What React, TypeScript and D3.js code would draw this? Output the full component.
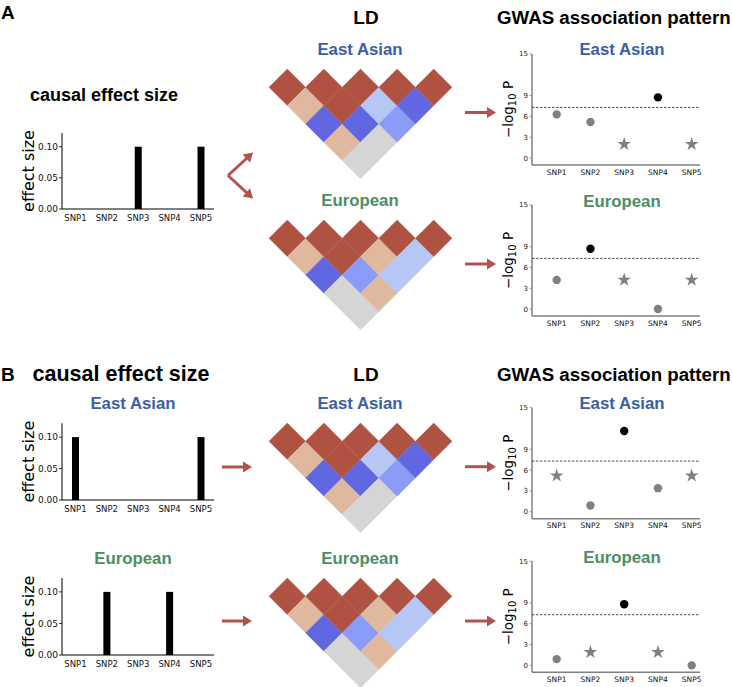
import React from "react";
import * as d3 from "d3";

// ---------------- data ----------------
const snps = ["SNP1", "SNP2", "SNP3", "SNP4", "SNP5"];
const causalA = [0, 0, 0.1, 0, 0.1];
const causalB_EAS = [0.1, 0, 0, 0, 0.1];
const causalB_EUR = [0, 0.1, 0, 0.1, 0];
const effectTicks = [0, 0.05, 0.1];

// LD (upper triangle, row i, col j>=i)
const ldEAS = [
  [1, 0.4, -0.8, 0.4, 0],
  [0, 1, 1, -0.8, 0],
  [0, 0, 1, -0.3, -0.6],
  [0, 0, 0, 1, -0.8],
  [0, 0, 0, 0, 1],
];
const ldEUR = [
  [1, 0.4, -0.8, 0, 0],
  [0, 1, 1, -0.6, 0.4],
  [0, 0, 1, 0.4, -0.3],
  [0, 0, 0, 1, -0.3],
  [0, 0, 0, 0, 1],
];
const ldStops = [-0.8, -0.6, -0.3, 0, 0.4, 1];
const ldColors = ["#6067e0", "#8b9bf8", "#b6c6f5", "#d5d5d5", "#dfb89e", "#b05242"];

const gwasA_EAS = [6.3, 5.2, 2.0, 8.75, 2.0];
const gwasA_EUR = [4.2, 8.7, 4.2, 0.0, 4.2];
const gwasB_EAS = [5.2, 0.9, 11.65, 3.4, 5.2];
const gwasB_EUR = [0.9, 1.9, 8.8, 1.9, 0.0];
const gwasTicks = [0, 3, 6, 9, 15];
const threshold = 7.3;

// ---------------- style ----------------
const TF = "'Liberation Sans', Arial, Helvetica, sans-serif";
const MF = "'DejaVu Sans', sans-serif";
const BLUE = "#3b5ea7";
const GREEN = "#4a8f5f";
const ARROW = "#b0534f";

const ldColor = d3.scaleLinear<string>().domain(ldStops).range(ldColors).interpolate(d3.interpolateRgb);

function BarPanel({ top, base, values }: { top: number; base: number; values: number[] }) {
  const ax = 62;
  const y = d3.scaleLinear().domain([0, 0.122]).range([base, top]);
  const x = d3.scaleLinear().domain([0, snps.length - 1]).range([75.5, 201]);
  const mid = (top + base) / 2;
  return (
    <g>
      <line x1={ax} x2={ax} y1={top} y2={base} stroke="#000" strokeWidth={1} />
      <line x1={ax} x2={214} y1={base} y2={base} stroke="#000" strokeWidth={1} />
      {effectTicks.map((t) => (
        <g key={t}>
          <line x1={ax - 3} x2={ax} y1={y(t)} y2={y(t)} stroke="#000" strokeWidth={0.8} />
          <text x={ax - 4} y={y(t)} dy="0.35em" textAnchor="end" fontFamily={MF} fontSize={9} fill="#111">
            {d3.format(".2f")(t)}
          </text>
        </g>
      ))}
      {values.map((v, i) => (
        <rect key={i} x={x(i) - 3.5} width={7} y={y(v)} height={base - y(v)} fill="#000" />
      ))}
      {snps.map((s, i) => (
        <text key={s} x={x(i)} y={base + 11.5} textAnchor="middle" fontFamily={MF} fontSize={8.5} fill="#111">
          {s}
        </text>
      ))}
      <text transform={`translate(33.5,${mid}) rotate(-90)`} textAnchor="middle" fontFamily={MF} fontSize={16} fill="#000">
        effect size
      </text>
    </g>
  );
}

function LDPanel({ left, top, ld }: { left: number; top: number; ld: number[][] }) {
  const h = 18.3;
  const cells: { i: number; j: number; v: number }[] = [];
  for (let i = 0; i < ld.length; i++) for (let j = i; j < ld.length; j++) cells.push({ i, j, v: ld[i][j] });
  return (
    <g>
      {cells.map(({ i, j, v }) => {
        const cx = left + h + (i + j) * h;
        const cy = top + h + (j - i) * h;
        const p = `M${cx},${cy - h}L${cx + h},${cy}L${cx},${cy + h}L${cx - h},${cy}Z`;
        return <path key={`${i}-${j}`} d={p} fill={ldColor(v)} stroke={ldColor(v)} strokeWidth={0.4} />;
      })}
    </g>
  );
}

function GwasPanel({ top, values, causal }: { top: number; values: number[]; causal: number[] }) {
  const ax = 532;
  const H = 111;
  const y = d3.scaleLinear().domain([-1, 15]).range([top + H, top]);
  const x = d3.scaleLinear().domain([0, snps.length - 1]).range([556.7, 691.7]);
  const star = d3.symbol().type(d3.symbolStar).size(58)();
  return (
    <g>
      <line x1={ax} x2={ax} y1={top} y2={top + H} stroke="#808080" strokeWidth={1.5} />
      <line x1={ax} x2={700} y1={top + H} y2={top + H} stroke="#808080" strokeWidth={1.5} />
      {gwasTicks.map((t) => (
        <g key={t}>
          <line x1={ax - 2.5} x2={ax} y1={y(t)} y2={y(t)} stroke="#808080" strokeWidth={0.8} />
          <text x={ax - 4} y={y(t)} dy="0.35em" textAnchor="end" fontFamily={MF} fontSize={7} fill="#222">
            {t}
          </text>
        </g>
      ))}
      <line x1={ax} x2={700} y1={y(threshold)} y2={y(threshold)} stroke="#222" strokeWidth={0.8} strokeDasharray="2.5,1.5" />
      {values.map((v, i) => {
        const col = v > threshold ? "#000" : "#808080";
        return causal[i] > 0 ? (
          <path key={i} d={star!} transform={`translate(${x(i)},${y(v)})`} fill={col} />
        ) : (
          <circle key={i} cx={x(i)} cy={y(v)} r={4.2} fill={col} />
        );
      })}
      {snps.map((s, i) => (
        <text key={s} x={x(i)} y={top + H + 9.5} textAnchor="middle" fontFamily={MF} fontSize={7.5} fill="#111">
          {s}
        </text>
      ))}
      <text transform={`translate(512.5,${top + H / 2}) rotate(-90)`} textAnchor="middle" fontFamily={MF} fontSize={13.5} fill="#000">
        −log
        <tspan dy={3.5} fontSize={10}>10</tspan>
        <tspan dy={-3.5}> P</tspan>
      </text>
    </g>
  );
}

function arrowHead(x1: number, y1: number, x2: number, y2: number, len = 9, wid = 5.5) {
  const a = Math.atan2(y2 - y1, x2 - x1);
  const bx = x2 - len * Math.cos(a);
  const by = y2 - len * Math.sin(a);
  const px = -Math.sin(a) * wid;
  const py = Math.cos(a) * wid;
  return `M${x2},${y2}L${bx + px},${by + py}L${bx - px},${by - py}Z`;
}

function Arrow({ x1, y1, x2, y2 }: { x1: number; y1: number; x2: number; y2: number }) {
  const a = Math.atan2(y2 - y1, x2 - x1);
  return (
    <g>
      <line x1={x1} y1={y1} x2={x2 - 6 * Math.cos(a)} y2={y2 - 6 * Math.sin(a)} stroke={ARROW} strokeWidth={3} />
      <path d={arrowHead(x1, y1, x2, y2)} fill={ARROW} />
    </g>
  );
}

function Title({ x, y, text, size, color = "#000", anchor = "middle" }: any) {
  return (
    <text x={x} y={y} textAnchor={anchor} fontFamily={TF} fontWeight="bold" fontSize={size} fill={color}>
      {text}
    </text>
  );
}

export default function App() {
  const ldLeft = 269;
  const sub = 16.8;
  return (
    <svg width={732} height={687} style={{ position: "absolute", left: 0, top: 0, background: "#fff" }}>
      {/* Panel A */}
      <Title x={1} y={19} text="A" size={19} anchor="start" />
      <Title x={104} y={101} text="causal effect size" size={18} />
      <Title x={366} y={24} text="LD" size={19} />
      <Title x={497} y={24} text="GWAS association pattern" size={18.7} anchor="start" />

      <BarPanel top={133} base={209} values={causalA} />

      <Title x={360} y={55} text="East Asian" size={sub} color={BLUE} />
      <LDPanel left={ldLeft} top={69} ld={ldEAS} />
      <Title x={360} y={206} text="European" size={sub} color={GREEN} />
      <LDPanel left={ldLeft} top={220} ld={ldEUR} />

      <g>
        <line x1={228} y1={175.5} x2={247} y2={158} stroke={ARROW} strokeWidth={3} strokeLinecap="butt" />
        <line x1={228} y1={175.5} x2={247} y2={193} stroke={ARROW} strokeWidth={3} strokeLinecap="butt" />
        <path d={arrowHead(228, 175.5, 253, 152.5)} fill={ARROW} />
        <path d={arrowHead(228, 175.5, 253, 198.5)} fill={ARROW} />
      </g>

      <Arrow x1={465} y1={112.5} x2={496} y2={112.5} />
      <Arrow x1={465} y1={264} x2={496} y2={264} />

      <Title x={622} y={55} text="East Asian" size={sub} color={BLUE} />
      <GwasPanel top={54} values={gwasA_EAS} causal={causalA} />
      <Title x={622} y={206.5} text="European" size={sub} color={GREEN} />
      <GwasPanel top={205} values={gwasA_EUR} causal={causalA} />

      {/* Panel B */}
      <Title x={1} y={381} text="B" size={19} anchor="start" />
      <Title x={121} y={381} text="causal effect size" size={21.5} />
      <Title x={366} y={381} text="LD" size={19} />
      <Title x={497} y={381} text="GWAS association pattern" size={18.7} anchor="start" />

      <Title x={133} y={409} text="East Asian" size={sub} color={BLUE} />
      <BarPanel top={423.3} base={500} values={causalB_EAS} />
      <Title x={133} y={564} text="European" size={sub} color={GREEN} />
      <BarPanel top={578} base={655} values={causalB_EUR} />

      <Arrow x1={222} y1={467} x2={252} y2={467} />
      <Arrow x1={222} y1={621} x2={252} y2={621} />

      <Title x={360} y={409} text="East Asian" size={sub} color={BLUE} />
      <LDPanel left={ldLeft} top={423} ld={ldEAS} />
      <Title x={360} y={564} text="European" size={sub} color={GREEN} />
      <LDPanel left={ldLeft} top={578} ld={ldEUR} />

      <Arrow x1={465} y1={466.7} x2={496} y2={466.7} />
      <Arrow x1={465} y1={621} x2={496} y2={621} />

      <Title x={622} y={409} text="East Asian" size={sub} color={BLUE} />
      <GwasPanel top={407.7} values={gwasB_EAS} causal={causalB_EAS} />
      <Title x={622} y={563} text="European" size={sub} color={GREEN} />
      <GwasPanel top={561.3} values={gwasB_EUR} causal={causalB_EUR} />
    </svg>
  );
}
